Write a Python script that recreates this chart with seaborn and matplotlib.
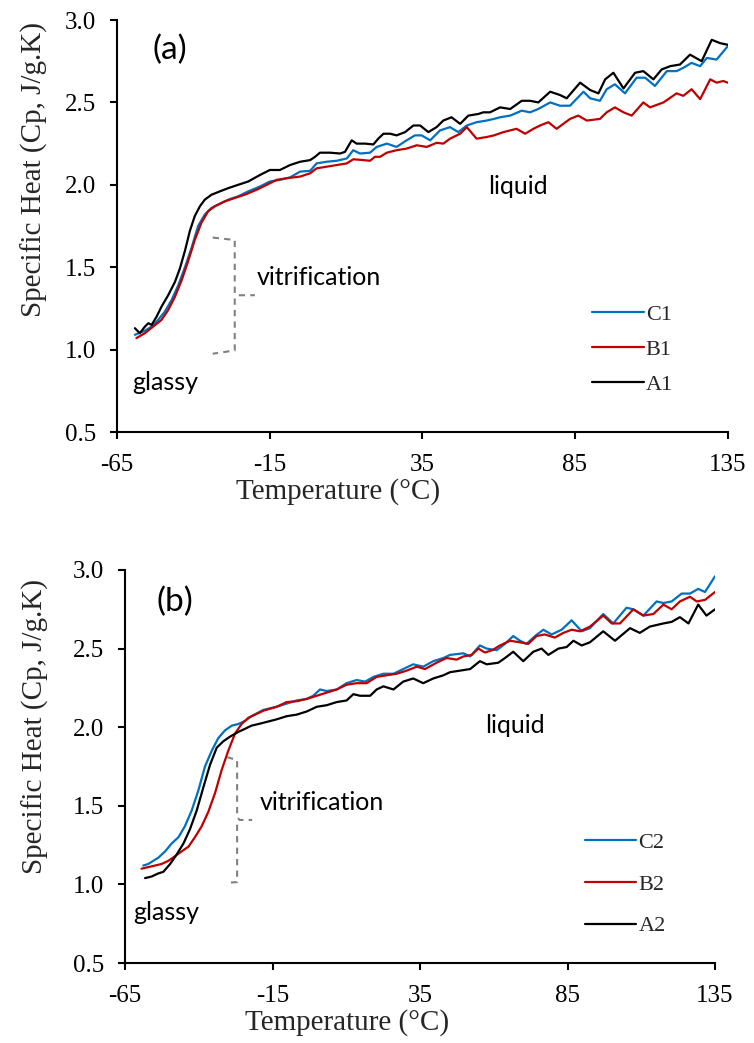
import numpy as np
import pandas as pd
import matplotlib
matplotlib.use("Agg")
import matplotlib.pyplot as plt
import seaborn as sns

# ---------------- data : panel (a) ----------------
A1_T = [-59.1, -57.5, -55.8, -54.7, -53.6, -52.0, -50.4, -48.2, -46.0, -44.4, -42.7, -41.1, -39.5, -37.8,
        -36.2, -34.0, -31.3, -28.5, -25.3, -22.0, -18.1, -14.9, -11.6, -8.3, -5.0, -1.7, -0.1, 1.5, 4.8,
        8.1, 9.7, 11.9, 13.5, 16.3, 19.0, 20.6, 22.3, 24.5, 26.6, 29.4, 32.1, 34.3, 37.0, 39.7, 41.9, 44.6,
        47.4, 50.1, 53.4, 55.0, 57.2, 60.5, 63.8, 67.6, 70.3, 73.0, 76.9, 80.1, 82.3, 86.7, 90.0, 92.7,
        94.9, 97.6, 100.9, 104.7, 107.4, 110.7, 113.4, 116.2, 119.4, 122.7, 126.5, 129.8, 132.5, 135.0]
A1_Cp = [1.13, 1.10, 1.14, 1.16, 1.15, 1.20, 1.26, 1.33, 1.41, 1.49, 1.60, 1.72, 1.81, 1.87,
         1.91, 1.94, 1.96, 1.98, 2.00, 2.02, 2.06, 2.09, 2.09, 2.12, 2.14, 2.15, 2.17, 2.195, 2.195,
         2.19, 2.20, 2.27, 2.25, 2.25, 2.245, 2.28, 2.31, 2.31, 2.30, 2.32, 2.36, 2.36, 2.32, 2.35, 2.39, 2.41,
         2.37, 2.42, 2.43, 2.44, 2.44, 2.47, 2.46, 2.51, 2.51, 2.50, 2.565, 2.545, 2.525, 2.62, 2.575, 2.555,
         2.64, 2.68, 2.585, 2.68, 2.69, 2.64, 2.70, 2.72, 2.73, 2.79, 2.75, 2.88, 2.86, 2.85]

C1_T = [-59.1, -55.8, -53.6, -51.5, -49.3, -47.1, -44.9, -42.7, -40.5, -38.4, -36.2, -34.0, -31.8, -28.5,
        -25.3, -22.0, -18.1, -14.9, -11.6, -8.3, -5.0, -1.7, 0.4, 3.7, 7.0, 10.3, 12.4, 14.6, 17.9, 20.1,
        23.4, 26.6, 29.9, 32.6, 34.8, 37.6, 40.8, 44.1, 46.8, 49.6, 52.8, 56.1, 58.5, 60.5, 63.8, 67.6, 70.3,
        73.0, 76.9, 80.1, 83.4, 87.8, 90.0, 93.2, 95.4, 98.1, 101.4, 105.2, 108.0, 111.2, 115.1, 118.3,
        120.5, 123.2, 126.0, 128.2, 131.4, 135.0]
C1_Cp = [1.09, 1.115, 1.14, 1.18, 1.23, 1.30, 1.39, 1.50, 1.62, 1.75, 1.82, 1.86, 1.88, 1.91,
         1.93, 1.96, 1.99, 2.02, 2.03, 2.045, 2.08, 2.085, 2.13, 2.14, 2.146, 2.16, 2.21, 2.19, 2.195, 2.23,
         2.25, 2.23, 2.27, 2.30, 2.30, 2.27, 2.33, 2.35, 2.32, 2.36, 2.38, 2.39, 2.40, 2.41, 2.42, 2.45, 2.44,
         2.46, 2.50, 2.48, 2.48, 2.565, 2.525, 2.51, 2.58, 2.61, 2.555, 2.65, 2.65, 2.60, 2.69, 2.69,
         2.71, 2.74, 2.72, 2.77, 2.76, 2.84]

B1_T = [-58.6, -55.8, -53.1, -50.4, -48.2, -46.0, -43.8, -41.6, -39.5, -37.3, -35.1, -32.9, -29.6, -26.4,
        -23.1, -19.2, -15.9, -12.7, -9.4, -5.0, -1.7, 0.4, 3.7, 7.0, 10.3, 12.4, 15.7, 17.9, 19.5, 21.2,
        23.4, 26.6, 29.9, 33.2, 36.5, 39.7, 41.9, 44.1, 47.4, 49.6, 52.8, 56.1, 58.5, 61.6, 65.9, 68.7, 71.4,
        73.6, 76.3, 79.0, 83.4, 86.1, 88.9, 93.2, 95.4, 98.1, 100.9, 103.6, 107.4, 109.6, 114.0, 118.3,
        120.5, 123.2, 126.0, 129.3, 131.4, 133.6, 135.0]
B1_Cp = [1.07, 1.10, 1.14, 1.18, 1.24, 1.32, 1.42, 1.54, 1.665, 1.77, 1.84, 1.87, 1.90, 1.92,
         1.94, 1.97, 2.00, 2.03, 2.04, 2.05, 2.07, 2.10, 2.11, 2.12, 2.13, 2.155, 2.15, 2.146, 2.17, 2.17,
         2.195, 2.21, 2.22, 2.24, 2.23, 2.255, 2.25, 2.28, 2.31, 2.35, 2.28, 2.29, 2.30, 2.32, 2.34, 2.31, 2.34,
         2.36, 2.38, 2.34, 2.40, 2.42, 2.39, 2.40, 2.44, 2.47, 2.44, 2.42, 2.50, 2.47, 2.50, 2.555,
         2.54, 2.58, 2.52, 2.64, 2.62, 2.63, 2.62]

# ---------------- data : panel (b) ----------------
C2_T = [-58.8, -57.1, -55.4, -53.7, -51.4, -49.2, -46.9, -44.7, -42.4, -40.1, -37.9, -35.6, -33.4, -31.1,
        -28.8, -26.6, -24.3, -22.1, -18.1, -13.6, -10.2, -6.8, -3.4, -1.2, 1.1, 3.4, 6.8, 10.1, 13.5, 16.4,
        19.2, 22.6, 26.0, 29.3, 32.7, 36.1, 39.5, 42.9, 45.2, 49.7, 52.0, 55.3, 57.6, 61.0, 63.8, 66.6, 68.9,
        71.1, 74.0, 76.8, 79.6, 83.0, 86.4, 89.8, 92.6, 97.1, 100.5, 105.0, 107.3, 110.7, 115.2, 117.5,
        120.3, 123.7, 126.5, 129.3, 131.6, 135.0]
C2_Cp = [1.12, 1.13, 1.15, 1.17, 1.21, 1.26, 1.30, 1.37, 1.47, 1.60, 1.75, 1.85, 1.93, 1.98,
         2.01, 2.02, 2.04, 2.07, 2.11, 2.13, 2.15, 2.17, 2.18, 2.20, 2.24, 2.23, 2.24, 2.28, 2.30, 2.29,
         2.32, 2.34, 2.34, 2.37, 2.40, 2.385, 2.42, 2.44, 2.46, 2.47, 2.45, 2.52, 2.50, 2.49, 2.53, 2.58, 2.55,
         2.53, 2.58, 2.62, 2.59, 2.62, 2.68, 2.61, 2.63, 2.72, 2.66, 2.76, 2.75, 2.71, 2.80, 2.79,
         2.80, 2.85, 2.85, 2.88, 2.86, 2.96]

B2_T = [-59.4, -57.1, -54.8, -52.6, -50.3, -48.0, -45.8, -43.5, -41.3, -39.0, -36.8, -34.5, -32.2, -30.0,
        -27.7, -25.5, -23.2, -20.9, -18.1, -13.6, -10.2, -6.8, -3.4, 0.0, 3.4, 6.8, 10.1, 13.5, 16.9, 20.3,
        23.7, 27.1, 30.5, 33.9, 36.7, 40.6, 44.0, 47.4, 49.7, 52.5, 54.8, 57.0, 59.5, 62.1, 65.5, 68.9, 71.7,
        74.5, 77.3, 80.7, 83.6, 86.4, 89.2, 92.6, 97.1, 100.0, 102.8, 107.3, 110.7, 114.1, 117.5, 120.3,
        123.1, 126.5, 128.8, 131.6, 135.0]
B2_Cp = [1.10, 1.11, 1.12, 1.13, 1.15, 1.18, 1.21, 1.24, 1.30, 1.37, 1.46, 1.58, 1.73, 1.85,
         1.96, 2.02, 2.06, 2.08, 2.105, 2.13, 2.16, 2.165, 2.18, 2.20, 2.22, 2.24, 2.27, 2.28, 2.28, 2.32,
         2.33, 2.34, 2.36, 2.385, 2.37, 2.41, 2.44, 2.43, 2.45, 2.46, 2.50, 2.475, 2.49, 2.52, 2.55, 2.54, 2.53,
         2.58, 2.59, 2.57, 2.60, 2.62, 2.61, 2.64, 2.71, 2.66, 2.66, 2.75, 2.71, 2.72, 2.78, 2.75,
         2.80, 2.83, 2.80, 2.81, 2.86]

A2_T = [-58.2, -56.0, -53.7, -52.0, -49.7, -47.5, -45.2, -43.0, -40.7, -38.4, -36.2, -33.9, -31.7, -29.4,
        -26.6, -24.3, -22.1, -19.8, -13.6, -10.2, -6.8, -3.4, 0.0, 3.4, 6.8, 10.1, 12.4, 14.7, 18.1, 20.3,
        22.6, 26.0, 29.3, 32.7, 36.1, 39.5, 42.9, 45.2, 48.6, 52.0, 55.3, 57.6, 61.5, 63.8, 66.6, 70.0, 73.4,
        76.2, 78.5, 81.9, 84.7, 87.0, 89.8, 92.6, 97.1, 101.1, 106.2, 109.5, 112.9, 117.5, 120.3, 123.1,
        126.0, 129.3, 132.1, 135.0]
A2_Cp = [1.04, 1.05, 1.07, 1.08, 1.13, 1.19, 1.26, 1.35, 1.47, 1.62, 1.76, 1.87, 1.91, 1.94,
         1.97, 1.99, 2.01, 2.02, 2.05, 2.07, 2.08, 2.10, 2.13, 2.14, 2.16, 2.17, 2.21, 2.20, 2.20, 2.24,
         2.26, 2.24, 2.29, 2.31, 2.28, 2.31, 2.33, 2.35, 2.36, 2.37, 2.42, 2.40, 2.41, 2.44, 2.48, 2.42, 2.48,
         2.50, 2.46, 2.50, 2.51, 2.55, 2.52, 2.54, 2.61, 2.55, 2.63, 2.60, 2.64, 2.66, 2.67, 2.70,
         2.66, 2.78, 2.71, 2.75]

X_TICKS = [-65, -15, 35, 85, 135]
Y_TICKS = [0.5, 1.0, 1.5, 2.0, 2.5, 3.0]

# annotation bracket paths (data coordinates)
BRACKET_A_UP_T = [-33.6, -26.4, -26.4, -25.5, -19.8]
BRACKET_A_UP_C = [1.68, 1.665, 1.34, 1.33, 1.33]
BRACKET_A_LO_T = [-26.4, -26.4, -33.6]
BRACKET_A_LO_C = [1.31, 0.995, 0.975]
BRACKET_B_UP_T = [-30.4, -27.0, -27.0, -26.2, -21.9]
BRACKET_B_UP_C = [1.81, 1.79, 1.43, 1.41, 1.41]
BRACKET_B_LO_T = [-27.0, -27.0, -30.4]
BRACKET_B_LO_C = [1.38, 1.015, 1.01]

COLORS = {"C": "#0070C0", "B": "#C00000", "A": "#000000"}

sns.set_style("ticks")
plt.rcParams["font.family"] = ["Liberation Serif", "DejaVu Serif"]
plt.rcParams["axes.linewidth"] = 1.5

SANS = ["Lato", "DejaVu Sans"]

fig = plt.figure(figsize=(7.54, 10.43), dpi=100)
ax_a = fig.add_axes([0.155, 0.5858, 0.810, 0.395])
ax_b = fig.add_axes([0.1658, 0.0767, 0.7825, 0.3768])


def make_df(series):
    frames = []
    for name, t, c in series:
        frames.append(pd.DataFrame({"T": t, "Cp": c, "series": name}))
    return pd.concat(frames, ignore_index=True)


def draw(ax, series, names, bracket, txt, ylab_y, ylab_pad, xlab_x, leg_spacing):
    df = make_df(series)
    pal = {n: COLORS[n[0]] for n in names}
    sns.lineplot(data=df, x="T", y="Cp", hue="series", hue_order=names, palette=pal,
                 estimator=None, sort=True, linewidth=1.6, ax=ax)
    ax.set_xlim(-65, 135)
    ax.set_ylim(0.5, 3.0)
    ax.set_xticks(X_TICKS)
    ax.set_yticks(Y_TICKS)
    ax.set_xticklabels([str(v) for v in X_TICKS])
    ax.set_yticklabels(["%.1f" % v for v in Y_TICKS])
    ax.tick_params(axis="both", direction="out", length=5, width=1.5, labelsize=18, colors="black")
    ax.tick_params(axis="y", pad=10)
    ax.tick_params(axis="x", pad=11)
    sns.despine(ax=ax)
    for s in ["left", "bottom"]:
        ax.spines[s].set_color("black")
        ax.spines[s].set_linewidth(1.5)
    ax.set_xlabel("Temperature (°C)", fontsize=21, labelpad=1)
    ax.set_ylabel("Specific Heat (Cp, J/g.K)", fontsize=21, labelpad=ylab_pad)
    ax.xaxis.label.set_x(xlab_x)
    ax.yaxis.label.set_y(ylab_y)

    (ut, uc), (lt, lc) = bracket
    ax.plot(ut, uc, color="#808080", lw=1.5, linestyle=(0, (3, 2.5)))
    ax.plot(lt, lc, color="#808080", lw=1.5, linestyle=(0, (3, 2.5)))

    for (x, y, s, fs, ha) in txt:
        ax.text(x, y, s, fontsize=fs, ha=ha, va="center", family=SANS, color="black")

    handles, labels = ax.get_legend_handles_labels()
    ax.legend(handles, labels, loc="center left", bbox_to_anchor=(0.746, 0.2), frameon=False,
              fontsize=16, handlelength=2.3, handletextpad=0.1, labelspacing=leg_spacing)


draw(ax_a, [("C1", C1_T, C1_Cp), ("B1", B1_T, B1_Cp), ("A1", A1_T, A1_Cp)],
     ["C1", "B1", "A1"],
     ((BRACKET_A_UP_T, BRACKET_A_UP_C), (BRACKET_A_LO_T, BRACKET_A_LO_C)),
     [(-47.6, 2.82, "(a)", 24, "center"), (66.3, 1.99, "liquid", 18, "center"),
      (-19.1, 1.44, "vitrification", 18, "left"), (-59.8, 0.80, "glassy", 18, "left")],
     0.636, 12, 0.362, 0.65)

draw(ax_b, [("C2", C2_T, C2_Cp), ("B2", B2_T, B2_Cp), ("A2", A2_T, A2_Cp)],
     ["C2", "B2", "A2"],
     ((BRACKET_B_UP_T, BRACKET_B_UP_C), (BRACKET_B_LO_T, BRACKET_B_LO_C)),
     [(-48.0, 2.80, "(b)", 24, "center"), (67.2, 2.01, "liquid", 18, "center"),
      (-19.2, 1.52, "vitrification", 18, "left"), (-62.3, 0.82, "glassy", 18, "left")],
     0.603, 17, 0.376, 0.95)

fig.savefig("out.png", dpi=100)
